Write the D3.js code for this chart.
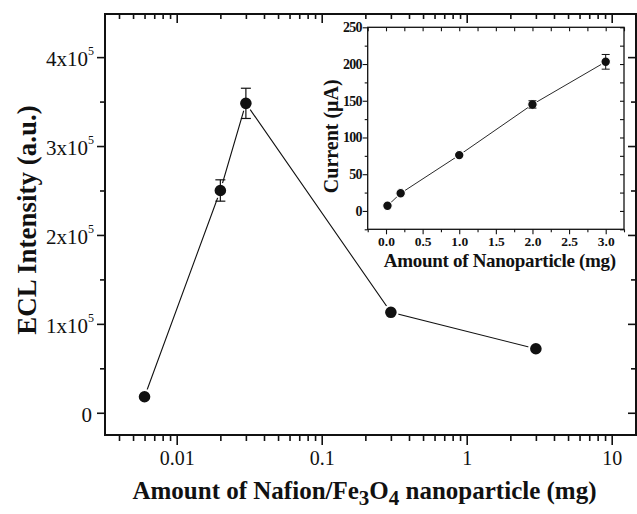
<!DOCTYPE html>
<html>
<head>
<meta charset="utf-8">
<script src="https://cdn.jsdelivr.net/npm/d3@7"></script>
<style>
  body { margin: 0; background: #fff; }
  svg { display: block; }
  text { font-family: "Liberation Serif", "Times New Roman", serif; fill: #111; }
</style>
</head>
<body>
<svg width="637" height="514"></svg>
<script>
"use strict";

// main plot: ECL vs amount (log x)
const amountVals = [0.006, 0.02, 0.03, 0.3, 3];
const eclVals = [18000, 250000, 348000, 113000, 72000];
const eclErr = [0, 12000, 17000, 0, 0];
const mainXTicks = [0.01, 0.1, 1, 10];
const mainYTicks = [0, 100000, 200000, 300000, 400000];
const mainYMinor = [50000, 150000, 250000, 350000];

// inset: current vs nanoparticle amount
const nanoVals = [0.02, 0.2, 1, 2, 3];
const currentVals = [7, 24, 76, 145, 203];
const currentErr = [0, 0, 0, 5, 10];
const insetXTicks = [0, 0.5, 1, 1.5, 2, 2.5, 3];
const insetXMinor = [-0.25, 0.25, 0.75, 1.25, 1.75, 2.25, 2.75, 3.25];
const insetYTicks = [0, 50, 100, 150, 200, 250];
const insetYMinor = [-25, 25, 75, 125, 175, 225];

const svg = d3.select("svg");
const ink = "#111";

// log minor ticks 2..9 per decade
function logMinor(lo, hi) {
    let out = [];
    for (let e = -3; e <= 1; e++) {
        for (let m = 2; m <= 9; m++) {
            let v = m * Math.pow(10, e);
            if (v > lo && v < hi) out.push(v);
        }
    }
    return out;
}

function styleAxis(g) {
    g.select(".domain").remove();
    g.selectAll("line").attr("stroke", ink).attr("stroke-width", 1.6);
}

function drawFrame(x0, y0, x1, y1, w) {
    svg.append("rect")
        .attr("x", x0).attr("y", y0)
        .attr("width", x1 - x0).attr("height", y1 - y0)
        .attr("fill", "none").attr("stroke", ink).attr("stroke-width", w);
}

// ---------- main plot ----------
const L = 105, R = 636, T = 14, B = 435;
const xScale = d3.scaleLog()
    .domain([Math.pow(10, -2.4945), Math.pow(10, 1.1676)])
    .range([L, R]);
const yScale = d3.scaleLinear()
    .domain([-25000, 448500])
    .range([B, T]);
const xMinor = logMinor(xScale.domain()[0], xScale.domain()[1]);

// bottom (outward) and top (inward)
svg.append("g").attr("transform", `translate(0,${B})`)
    .call(d3.axisBottom(xScale).tickValues(xMinor).tickFormat("").tickSize(6).tickSizeOuter(0))
    .call(styleAxis);
svg.append("g").attr("transform", `translate(0,${B})`)
    .call(d3.axisBottom(xScale).tickValues(mainXTicks).tickSize(10).tickSizeOuter(0).tickPadding(6)
        .tickFormat(d => d >= 1 ? d3.format("d")(d) : String(d)))
    .call(styleAxis)
    .call(g => g.selectAll("text").attr("font-size", 20).attr("fill", ink));
svg.append("g").attr("transform", `translate(0,${T})`)
    .call(d3.axisTop(xScale).tickValues(xMinor).tickFormat("").tickSize(-5).tickSizeOuter(0))
    .call(styleAxis);
svg.append("g").attr("transform", `translate(0,${T})`)
    .call(d3.axisTop(xScale).tickValues(mainXTicks).tickFormat("").tickSize(-9).tickSizeOuter(0))
    .call(styleAxis);

// left (outward) and right (inward)
svg.append("g").attr("transform", `translate(${L},0)`)
    .call(d3.axisLeft(yScale).tickValues(mainYMinor).tickFormat("").tickSize(5).tickSizeOuter(0))
    .call(styleAxis);
svg.append("g").attr("transform", `translate(${L},0)`)
    .call(d3.axisLeft(yScale).tickValues(mainYTicks).tickFormat("").tickSize(8).tickSizeOuter(0))
    .call(styleAxis);
svg.append("g").attr("transform", `translate(${R},0)`)
    .call(d3.axisRight(yScale).tickValues(mainYMinor).tickFormat("").tickSize(-5).tickSizeOuter(0))
    .call(styleAxis);
svg.append("g").attr("transform", `translate(${R},0)`)
    .call(d3.axisRight(yScale).tickValues(mainYTicks).tickFormat("").tickSize(-8).tickSizeOuter(0))
    .call(styleAxis);

// y tick labels with superscript
const yLab = svg.append("g");
mainYTicks.forEach(v => {
    let t = yLab.append("text")
        .attr("x", v === 0 ? 92 : 88)
        .attr("y", yScale(v) + 9)
        .attr("text-anchor", "end")
        .attr("font-size", 21);
    if (v === 0) {
        t.text("0");
    } else {
        t.append("tspan").text((v / 100000) + "x10");
        yLab.append("text")
            .attr("x", 88).attr("y", yScale(v) - 2)
            .attr("font-size", 12).text("5");
    }
});

drawFrame(L, T, R, B, 2);

// data line, markers, error bars
const mainPts = amountVals.map((a, i) => ({x: a, y: eclVals[i], e: eclErr[i]}));
svg.append("path")
    .datum(mainPts)
    .attr("fill", "none").attr("stroke", ink).attr("stroke-width", 1.1)
    .attr("d", d3.line().x(d => xScale(d.x)).y(d => yScale(d.y)));
svg.append("g").selectAll("circle").data(mainPts).join("circle")
    .attr("cx", d => xScale(d.x)).attr("cy", d => yScale(d.y)).attr("r", 6.8)
    .attr("fill", ink).attr("stroke", "#fff").attr("stroke-width", 2);
const mErr = svg.append("g").selectAll("g").data(mainPts.filter(d => d.e > 0)).join("g")
    .attr("stroke", ink).attr("stroke-width", 1.2);
mErr.append("line")
    .attr("x1", d => xScale(d.x)).attr("x2", d => xScale(d.x))
    .attr("y1", d => yScale(d.y - d.e)).attr("y2", d => yScale(d.y + d.e));
[-1, 1].forEach(s => {
    mErr.append("line")
        .attr("x1", d => xScale(d.x) - 5).attr("x2", d => xScale(d.x) + 5)
        .attr("y1", d => yScale(d.y + s * d.e)).attr("y2", d => yScale(d.y + s * d.e));
});

// axis titles
const xTitle = svg.append("text")
    .attr("x", (L + R) / 2 - 6).attr("y", 499)
    .attr("text-anchor", "middle").attr("font-size", 25).attr("font-weight", "bold");
xTitle.append("tspan").text("Amount of Nafion/Fe");
xTitle.append("tspan").attr("font-size", 21).attr("dy", 6).text("3");
xTitle.append("tspan").attr("dy", -6).text("O");
xTitle.append("tspan").attr("font-size", 21).attr("dy", 6).text("4");
xTitle.append("tspan").attr("dy", -6).text(" nanoparticle (mg)");

svg.append("text")
    .attr("transform", "translate(36,220) rotate(-90)")
    .attr("text-anchor", "middle").attr("font-size", 27).attr("font-weight", "bold")
    .text("ECL Intensity (a.u.)");

// ---------- inset ----------
const iL = 367.7, iR = 624, iT = 27.3, iB = 229.3;
const ixScale = d3.scaleLinear().domain([-0.25, 3.25]).range([iL, iR]);
const iyScale = d3.scaleLinear().domain([-25, 250]).range([iB, iT]);

svg.append("rect").attr("x", iL).attr("y", iT)
    .attr("width", iR - iL).attr("height", iB - iT).attr("fill", "#fff");

function styleInset(g) {
    g.select(".domain").remove();
    g.selectAll("line").attr("stroke", ink).attr("stroke-width", 1.1);
}
svg.append("g").attr("transform", `translate(0,${iB})`)
    .call(d3.axisBottom(ixScale).tickValues(insetXMinor).tickFormat("").tickSize(3).tickSizeOuter(0))
    .call(styleInset);
svg.append("g").attr("transform", `translate(0,${iB})`)
    .call(d3.axisBottom(ixScale).tickValues(insetXTicks).tickSize(5).tickSizeOuter(0).tickPadding(2)
        .tickFormat(d3.format(".1f")))
    .call(styleInset)
    .call(g => g.selectAll("text").attr("font-size", 13.5).attr("font-weight", "bold").attr("fill", ink));
svg.append("g").attr("transform", `translate(0,${iT})`)
    .call(d3.axisTop(ixScale).tickValues(insetXMinor.concat(insetXTicks)).tickFormat("").tickSize(-4).tickSizeOuter(0))
    .call(styleInset);
svg.append("g").attr("transform", `translate(${iL},0)`)
    .call(d3.axisLeft(iyScale).tickValues(insetYMinor).tickFormat("").tickSize(3).tickSizeOuter(0))
    .call(styleInset);
svg.append("g").attr("transform", `translate(${iL},0)`)
    .call(d3.axisLeft(iyScale).tickValues(insetYTicks).tickSize(5).tickSizeOuter(0).tickPadding(1))
    .call(styleInset)
    .call(g => g.selectAll("text").attr("font-size", 14).attr("font-weight", "bold")
        .attr("fill", ink).attr("letter-spacing", -0.8));
svg.append("g").attr("transform", `translate(${iR},0)`)
    .call(d3.axisRight(iyScale).tickValues(insetYMinor.concat(insetYTicks)).tickFormat("").tickSize(-4).tickSizeOuter(0))
    .call(styleInset);

drawFrame(iL, iT, iR, iB, 1.3);

const insetPts = nanoVals.map((a, i) => ({x: a, y: currentVals[i], e: currentErr[i]}));
svg.append("path")
    .datum(insetPts)
    .attr("fill", "none").attr("stroke", ink).attr("stroke-width", 0.9)
    .attr("d", d3.line().x(d => ixScale(d.x)).y(d => iyScale(d.y)));
svg.append("g").selectAll("circle").data(insetPts).join("circle")
    .attr("cx", d => ixScale(d.x)).attr("cy", d => iyScale(d.y)).attr("r", 4.8)
    .attr("fill", ink).attr("stroke", "#fff").attr("stroke-width", 1.2);
const iErr = svg.append("g").selectAll("g").data(insetPts.filter(d => d.e > 0)).join("g")
    .attr("stroke", ink).attr("stroke-width", 1);
iErr.append("line")
    .attr("x1", d => ixScale(d.x)).attr("x2", d => ixScale(d.x))
    .attr("y1", d => iyScale(d.y - d.e)).attr("y2", d => iyScale(d.y + d.e));
[-1, 1].forEach(s => {
    iErr.append("line")
        .attr("x1", d => ixScale(d.x) - 4).attr("x2", d => ixScale(d.x) + 4)
        .attr("y1", d => iyScale(d.y + s * d.e)).attr("y2", d => iyScale(d.y + s * d.e));
});

svg.append("text")
    .attr("x", (iL + iR) / 2 + 4).attr("y", 267)
    .attr("text-anchor", "middle").attr("font-size", 19).attr("font-weight", "bold")
    .attr("letter-spacing", -0.3)
    .text("Amount of Nanoparticle (mg)");
svg.append("text")
    .attr("transform", `translate(338,${(iT + iB) / 2 + 8}) rotate(-90)`)
    .attr("text-anchor", "middle").attr("font-size", 20).attr("font-weight", "bold")
    .text("Current (\u03BCA)");
</script>
</body>
</html>
